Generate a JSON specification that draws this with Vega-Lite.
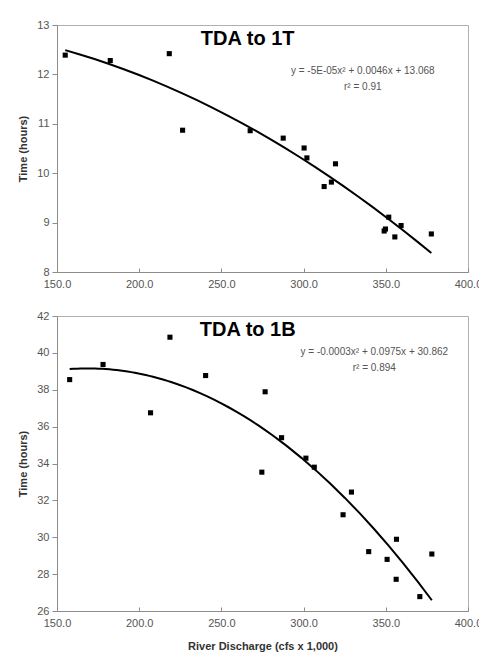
{
  "$schema": "https://vega.github.io/schema/vega-lite/v6.json",
  "padding": {"left": 17, "top": 18, "right": 5, "bottom": 5},
  "background": "white",
  "bounds": "flush",
  "spacing": 44,
  "config": {
    "font": "Liberation Sans",
    "view": {"stroke": "#b0b0b0", "strokeWidth": 1},
    "axis": {
      "grid": false,
      "domainColor": "#8c8c8c",
      "tickColor": "#8c8c8c",
      "labelColor": "#555555",
      "labelFont": "Liberation Sans",
      "labelFontSize": 11,
      "labelOverlap": false,
      "labelFlush": false,
      "titleFont": "Liberation Sans",
      "titleFontSize": 11,
      "titleFontWeight": "bold",
      "titleColor": "#333333"
    }
  },
  "vconcat": [
    {
      "width": 411,
      "height": 247,
      "data": {"values": [
        {"q": 155.0, "t": 12.39}, {"q": 182.4, "t": 12.28}, {"q": 218.3, "t": 12.42},
        {"q": 226.4, "t": 10.87}, {"q": 267.5, "t": 10.86}, {"q": 287.6, "t": 10.71},
        {"q": 300.3, "t": 10.51}, {"q": 302.0, "t": 10.31}, {"q": 319.4, "t": 10.19},
        {"q": 312.5, "t": 9.73}, {"q": 316.9, "t": 9.82}, {"q": 349.0, "t": 8.83},
        {"q": 349.8, "t": 8.87}, {"q": 351.8, "t": 9.11}, {"q": 355.5, "t": 8.71},
        {"q": 359.3, "t": 8.94}, {"q": 377.7, "t": 8.77}
      ]},
      "encoding": {
        "x": {"field": "q", "type": "quantitative", "scale": {"domain": [150, 400], "nice": false},
          "axis": {"title": null, "values": [150, 200, 250, 300, 350, 400], "format": ".1f", "tickSize": -4, "labelPadding": 10, "labelFlush": false, "labelOverlap": false}},
        "y": {"field": "t", "type": "quantitative", "scale": {"domain": [8, 13], "nice": false, "zero": false},
          "axis": {"title": "Time (hours)", "values": [8, 9, 10, 11, 12, 13], "tickSize": 5, "labelPadding": 3, "titlePadding": 8, "labelFlush": false, "labelOverlap": false}}
      },
      "layer": [
        {
          "mark": {"type": "point", "shape": "square", "filled": true, "color": "black", "opacity": 1, "size": 26}
        },
        {
          "transform": [{"regression": "t", "on": "q", "method": "poly", "order": 2}],
          "mark": {"type": "line", "color": "black", "strokeWidth": 2}
        },
        {
          "data": {"values": [{"label": "TDA to 1T", "q": 266, "t": 12.72}]},
          "mark": {"type": "text", "fontWeight": "bold", "fontSize": 20, "color": "black", "baseline": "middle", "align": "center"},
          "encoding": {"text": {"field": "label"}}
        },
        {
          "data": {"values": [
            {"label": "y = -5E-05x² + 0.0046x + 13.068", "q": 336, "t": 12.07},
            {"label": "r² = 0.91", "q": 336, "t": 11.75}
          ]},
          "mark": {"type": "text", "fontSize": 10, "color": "#555555", "baseline": "middle", "align": "center"},
          "encoding": {"text": {"field": "label"}}
        }
      ]
    },
    {
      "width": 411,
      "height": 295,
      "data": {"values": [
        {"q": 157.7, "t": 38.55}, {"q": 178.0, "t": 39.37}, {"q": 206.9, "t": 36.75},
        {"q": 218.7, "t": 40.85}, {"q": 240.4, "t": 38.77}, {"q": 274.6, "t": 33.53},
        {"q": 276.6, "t": 37.89}, {"q": 286.6, "t": 35.40}, {"q": 301.4, "t": 34.29},
        {"q": 306.5, "t": 33.80}, {"q": 324.0, "t": 31.22}, {"q": 329.1, "t": 32.45},
        {"q": 339.6, "t": 29.22}, {"q": 350.8, "t": 28.80}, {"q": 356.5, "t": 29.89},
        {"q": 356.3, "t": 27.72}, {"q": 370.7, "t": 26.78}, {"q": 378.0, "t": 29.09}
      ]},
      "encoding": {
        "x": {"field": "q", "type": "quantitative", "scale": {"domain": [150, 400], "nice": false},
          "axis": {"title": "River Discharge (cfs x 1,000)", "values": [150, 200, 250, 300, 350, 400], "format": ".1f", "tickSize": -4, "labelPadding": 10, "titlePadding": 12, "labelFlush": false, "labelOverlap": false}},
        "y": {"field": "t", "type": "quantitative", "scale": {"domain": [26, 42], "nice": false, "zero": false},
          "axis": {"title": "Time (hours)", "values": [26, 28, 30, 32, 34, 36, 38, 40, 42], "tickSize": 5, "labelPadding": 3, "titlePadding": 8, "labelFlush": false, "labelOverlap": false}}
      },
      "layer": [
        {
          "mark": {"type": "point", "shape": "square", "filled": true, "color": "black", "opacity": 1, "size": 26}
        },
        {
          "transform": [{"regression": "t", "on": "q", "method": "poly", "order": 2}],
          "mark": {"type": "line", "color": "black", "strokeWidth": 2}
        },
        {
          "data": {"values": [{"label": "TDA to 1B", "q": 266, "t": 41.26}]},
          "mark": {"type": "text", "fontWeight": "bold", "fontSize": 20, "color": "black", "baseline": "middle", "align": "center"},
          "encoding": {"text": {"field": "label"}}
        },
        {
          "data": {"values": [
            {"label": "y = -0.0003x² + 0.0975x + 30.862", "q": 343, "t": 40.03},
            {"label": "r² = 0.894", "q": 343, "t": 39.19}
          ]},
          "mark": {"type": "text", "fontSize": 10, "color": "#555555", "baseline": "middle", "align": "center"},
          "encoding": {"text": {"field": "label"}}
        }
      ]
    }
  ]
}
